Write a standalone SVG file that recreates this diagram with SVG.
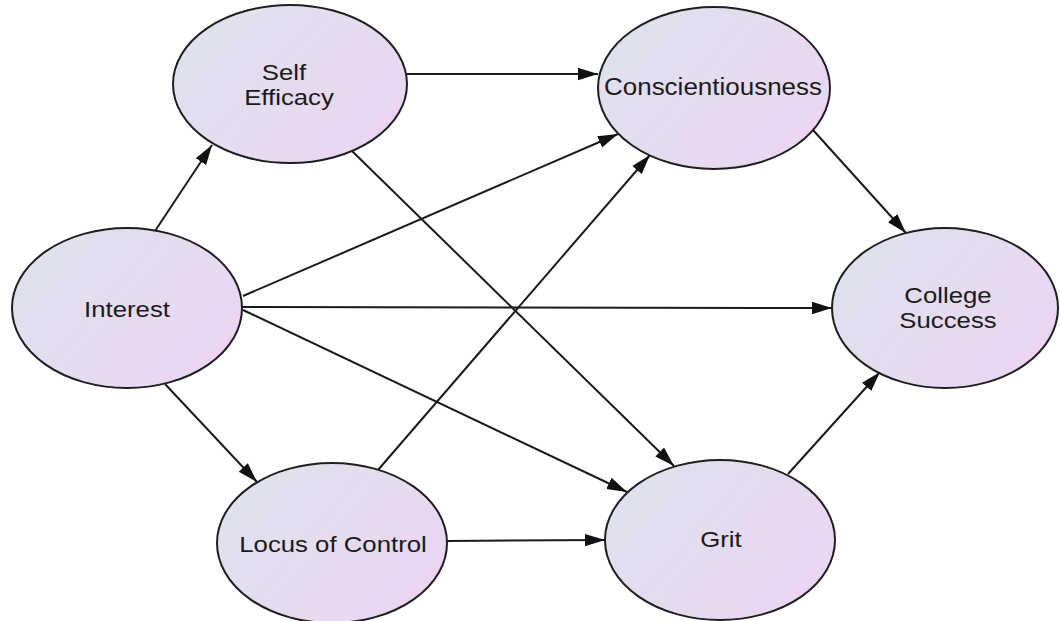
<svg xmlns="http://www.w3.org/2000/svg" width="1060" height="621" viewBox="0 0 1060 621">
  <style>
    .node ellipse { fill: url(#nodeFill); stroke: #1e1e1e; stroke-width: 2; }
    .node text { font-family: "Liberation Sans", Arial, sans-serif; font-size: 23px; fill: #1a1a1a; text-anchor: middle; }
    .edges line { stroke: #1a1a1a; stroke-width: 2; marker-end: url(#arrow); }
  </style>
  <defs>
    <linearGradient id="nodeFill" x1="0" y1="0.2" x2="1" y2="0.8">
      <stop offset="0" stop-color="#dee2ee"/>
      <stop offset="1" stop-color="#ecd5f2"/>
    </linearGradient>
    <marker id="arrow" markerUnits="userSpaceOnUse" markerWidth="21" markerHeight="14" refX="20" refY="7" orient="auto">
      <path d="M0,0.8 L20,7 L0,13.2 Z" fill="#111"/>
    </marker>
  </defs>

  <rect width="1060" height="621" fill="#fff"/>

  <!-- connectors -->
  <g class="edges">
    <line x1="155" y1="231" x2="212" y2="145"/>
    <line x1="165" y1="384" x2="257" y2="482"/>
    <line x1="243" y1="296" x2="618" y2="134"/>
    <line x1="243" y1="307" x2="832" y2="308"/>
    <line x1="243" y1="310" x2="627" y2="492"/>
    <line x1="407" y1="74" x2="598" y2="74"/>
    <line x1="352" y1="151" x2="674" y2="466"/>
    <line x1="378" y1="470" x2="650" y2="155"/>
    <line x1="447" y1="541" x2="605" y2="540"/>
    <line x1="813" y1="130" x2="906" y2="233"/>
    <line x1="788" y1="474" x2="880" y2="372"/>
  </g>

  <g id="self-efficacy" class="node">
    <ellipse cx="290" cy="84" rx="117" ry="79"/>
    <text transform="translate(284 80) scale(1.12 1)">Self</text>
    <text transform="translate(289 105) scale(1.12 1)">Efficacy</text>
  </g>

  <g id="conscientiousness" class="node">
    <ellipse cx="714" cy="88" rx="116" ry="81"/>
    <text transform="translate(713 95) scale(1.13 1)">Conscientiousness</text>
  </g>

  <g id="interest" class="node">
    <ellipse cx="127" cy="308" rx="115" ry="80"/>
    <text transform="translate(127 317) scale(1.12 1)">Interest</text>
  </g>

  <g id="college-success" class="node">
    <ellipse cx="945" cy="308" rx="113" ry="80"/>
    <text transform="translate(948 303) scale(1.12 1)">College</text>
    <text transform="translate(948 328) scale(1.12 1)">Success</text>
  </g>

  <g id="locus-of-control" class="node">
    <ellipse cx="332" cy="543" rx="115" ry="80"/>
    <text transform="translate(333 552) scale(1.12 1)">Locus of Control</text>
  </g>

  <g id="grit" class="node">
    <ellipse cx="720" cy="540" rx="115" ry="80"/>
    <text transform="translate(721 547) scale(1.12 1)">Grit</text>
  </g>
</svg>
